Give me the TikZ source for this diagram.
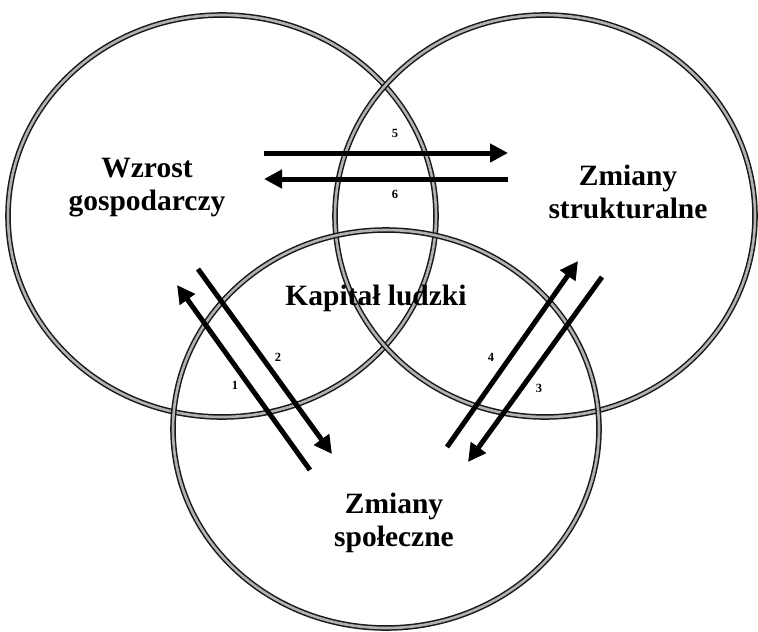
\documentclass[tikz,border=0pt]{standalone}
\usepackage{fontspec}
\setmainfont{Liberation Serif}
\usetikzlibrary{arrows.meta}

\tikzset{
  ring/.style={draw=black!90,line width=1.5pt,double=black!30,double distance=2.6pt},
  area/.style={font=\fontsize{29.5}{33}\selectfont\bfseries,align=center,inner sep=0pt},
  num/.style={font=\fontsize{12.5}{14}\selectfont\bfseries,inner sep=0pt},
  flow/.style={line width=5pt,-{Triangle[length=18pt,width=18pt]}}
}

\begin{document}
\begin{tikzpicture}[x=1pt,y=-1pt]
  \useasboundingbox (0,0) rectangle (758,632);
  % the three spheres
  \draw[ring] (222,216) ellipse [x radius=214,y radius=201];
  \draw[ring] (545,216) ellipse [x radius=210,y radius=201];
  \draw[ring] (386,429) ellipse [x radius=213,y radius=199];

  \node[area] (wzrost)  at (147,188) {Wzrost\\gospodarczy};
  \node[area] (struk)   at (628,192) {Zmiany\\strukturalne};
  \node[area] (kapital) at (376,298) {Kapitał ludzki};
  \node[area] (spol)    at (394,523) {Zmiany\\społeczne};

  % ends of the arrows
  \coordinate (p5a) at (264,153); \coordinate (p5b) at (508,153);
  \coordinate (p6a) at (508,179); \coordinate (p6b) at (264,179);
  \coordinate (p1a) at (310,470); \coordinate (p1b) at (177,285);
  \coordinate (p2a) at (198,269); \coordinate (p2b) at (332,454);
  \coordinate (p4a) at (447,447); \coordinate (p4b) at (578,261);
  \coordinate (p3a) at (602,277); \coordinate (p3b) at (468,462);

  \draw[flow] (p5a) -- (p5b);
  \draw[flow] (p6a) -- (p6b);
  \draw[flow] (p1a) -- (p1b);
  \draw[flow] (p2a) -- (p2b);
  \draw[flow] (p4a) -- (p4b);
  \draw[flow] (p3a) -- (p3b);

  \node[num] (n5) at (395,133) {5};
  \node[num] (n6) at (395,194) {6};
  \node[num] (n1) at (235,385) {1};
  \node[num] (n2) at (278,357) {2};
  \node[num] (n4) at (491,357) {4};
  \node[num] (n3) at (539,388) {3};
\end{tikzpicture}
\end{document}
